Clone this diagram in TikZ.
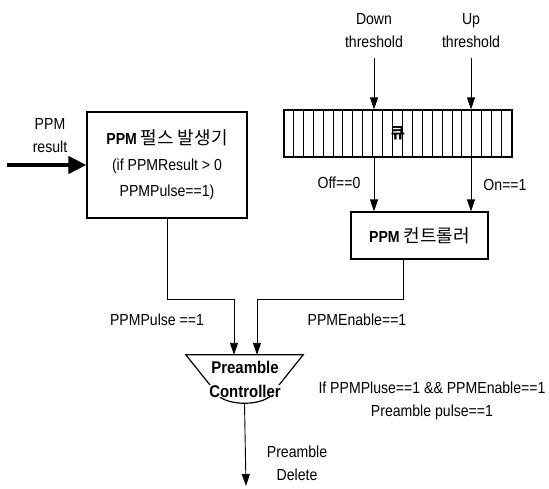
\documentclass[tikz,border=0pt]{standalone}
\usepackage{fontspec}
\setmainfont{Liberation Sans}[FakeStretch=0.88]
\newfontfamily\kr{Noto Sans CJK KR}
\usetikzlibrary{arrows.meta,positioning}

\tikzset{
  blk/.style={draw,line width=1.2pt,inner sep=0pt},
  txt/.style={inner sep=0pt,align=center,font=\fontsize{16}{23}\selectfont},
  bold/.style={inner sep=0pt,font=\bfseries\fontsize{17}{17}\selectfont},
  arr/.style={line width=0.9pt,-{Triangle[length=12pt,width=8pt]}},
  bigarr/.style={line width=4pt,-{Triangle[length=18pt,width=17pt]}},
}

\begin{document}
\begin{tikzpicture}[x=1pt,y=-1pt]
\useasboundingbox (0,0) rectangle (549,488);

% 펄스 발생기
\node[blk,txt,minimum width=160pt,minimum height=106pt,font=\fontsize{16}{26}\selectfont] (gen) at (167,165)
  {\textbf{PPM} {\kr\fontsize{18}{26}\selectfont 펄스 발생기}\\(if PPMResult > 0\\PPMPulse==1)};
\node[txt] (res) at (50,136) {PPM\\result};
\coordinate (in) at (7,165);
\draw[bigarr] (in) -- (gen.west);

% 큐
\node[blk,minimum width=228pt,minimum height=47pt] (queue) at (398,133.5) {};
\foreach \i in {1,...,22}
  \draw[line width=0.8pt] ([xshift=\i*9.913pt]queue.north west) -- ([xshift=\i*9.913pt]queue.south west);
\node[txt,font=\kr\bfseries\fontsize{15}{15}\selectfont] (qname) at (queue) {큐};

\node[txt] (dn) at (374,31) {Down\\threshold};
\node[txt] (up) at (471,31) {Up\\threshold};
\draw[arr] ([yshift=-10pt]dn.south) -- (dn.south |- queue.north);
\draw[arr] ([yshift=-10pt]up.south) -- (up.south |- queue.north);

% 컨트롤러
\node[blk,txt,minimum width=137pt,minimum height=47pt] (ctrl) at (419.5,235.5)
  {\textbf{PPM} {\kr\fontsize{18}{18}\selectfont 컨트롤러}};
\draw[arr] (queue.south -| dn) -- (ctrl.north -| dn);
\draw[arr] (queue.south -| up) -- (ctrl.north -| up);
\node[txt] (off) at (339,183) {Off==0};
\node[txt] (on) at (505,185) {On==1};

% Preamble Controller
\node[minimum width=117pt,minimum height=49pt,inner sep=0pt] (pc) at (244.5,379.5) {};
\draw[line width=1.2pt] (pc.north west) -- (pc.north east) -- (271,395)
  .. controls (262,406) and (227,406) .. (218,395) -- cycle;
\node[bold] (pc1) at (245,367) {Preamble};
\node[bold,fill=white] (pc2) at (245,391) {Controller};

\coordinate (bus) at (0,299);
\coordinate (cout) at ([xshift=-16.5pt]ctrl.south);
\coordinate (pin1) at ([xshift=-10.5pt]pc.north);
\coordinate (pin2) at ([xshift=12.5pt]pc.north);
\draw[arr] (gen.south) -- (gen.south |- bus) -| (pin1);
\draw[arr] (cout) -- (cout |- bus) -| (pin2);
\node[txt] (lpulse) at (157,320) {PPMPulse ==1};
\node[txt] (lenable) at (357,320) {PPMEnable==1};

\coordinate (out) at (246,486);
\draw[arr] (pc.south) -- (out);
\node[txt] (del) at (297,463) {Preamble\\Delete};
\node[txt] (cond) at (432,401) {If PPMPluse==1 \&\& PPMEnable==1\\Preamble pulse==1};
\end{tikzpicture}
\end{document}
